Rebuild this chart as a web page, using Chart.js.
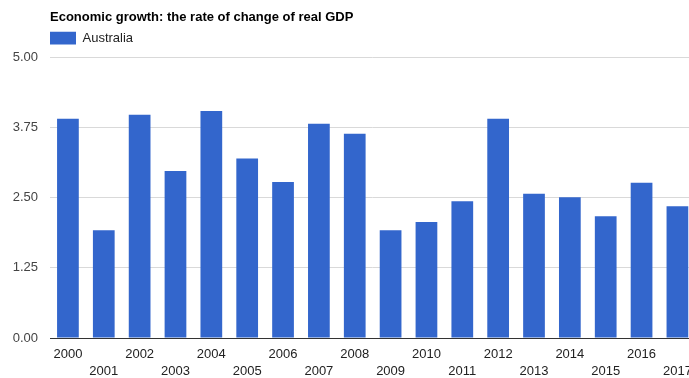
<!DOCTYPE html>
<html lang="en">
<head>
	<meta charset="UTF-8">
	<title>Economic growth</title>
	<script src="https://cdn.jsdelivr.net/npm/chart.js"></script>
	<style>
		body { margin: 0; overflow: hidden; background: #fff; }
	</style>
</head>
<body>

<canvas id="gdpChart" width="700" height="378"></canvas>

<script>
const years = ['2000', '2001', '2002', '2003', '2004', '2005', '2006', '2007', '2008',
	'2009', '2010', '2011', '2012', '2013', '2014', '2015', '2016', '2017'];
const australia = [3.91, 1.92, 3.98, 2.98, 4.05, 3.20, 2.78, 3.82, 3.64,
	1.92, 2.07, 2.44, 3.91, 2.57, 2.51, 2.17, 2.77, 2.35];
const yTicks = [0, 1.25, 2.5, 3.75, 5];

// a bit more room under the legend
const legendGap = {
	id: 'legendGap',
	beforeInit(chart) {
		const fit = chart.legend.fit;
		chart.legend.fit = function() {
			fit.call(this);
			this.height += 3;
		};
	}
};

const ctx = document.getElementById('gdpChart').getContext('2d');
const chart = new Chart(ctx, {
	type: 'bar',
	data: {
		labels: years,
		datasets: [{
			label: 'Australia',
			data: australia,
			backgroundColor: '#3366cc',
			borderWidth: 0,
			barPercentage: 1,
			categoryPercentage: 0.606
		}]
	},
	plugins: [legendGap],
	options: {
		responsive: false,
		animation: false,
		plugins: {
			title: {
				display: true,
				text: 'Economic growth: the rate of change of real GDP',
				align: 'start',
				fullSize: false,
				color: '#000',
				font: { family: 'Arial, "Liberation Sans"', size: 13, weight: 'bold' },
				padding: { top: 10, bottom: 6 }
			},
			legend: {
				align: 'start',
				fullSize: false,
				labels: {
					boxWidth: 26,
					boxHeight: 13,
					color: '#222',
					font: { family: 'Arial, "Liberation Sans"', size: 13 },
					padding: 0
				}
			},
			tooltip: { enabled: false }
		},
		scales: {
			x: {
				afterFit: function(scale) { scale.height = 40; },
				grid: { display: false, drawTicks: false },
				border: { color: '#333', width: 1 },
				ticks: {
					autoSkip: false,
					maxRotation: 0,
					padding: 8,
					color: '#222',
					font: { family: 'Arial, "Liberation Sans"', size: 13, lineHeight: 1.3 },
					callback: function(value, index) {
						const y = years[index];
						return index % 2 === 0 ? [y, ''] : ['', y];
					}
				}
			},
			y: {
				min: 0,
				max: 5,
				afterFit: function(scale) { scale.width = 50; },
				afterBuildTicks: function(scale) {
					scale.ticks = yTicks.map(v => ({ value: v }));
				},
				border: { display: false },
				grid: {
					drawTicks: false,
					color: c => c.tick && c.tick.value === 0 ? '#333' : '#d9d9d9'
				},
				ticks: {
					padding: 12,
					color: '#444',
					font: { family: 'Arial, "Liberation Sans"', size: 13 },
					callback: v => Number(v).toFixed(2)
				}
			}
		}
	}
});
</script>

</body>
</html>
